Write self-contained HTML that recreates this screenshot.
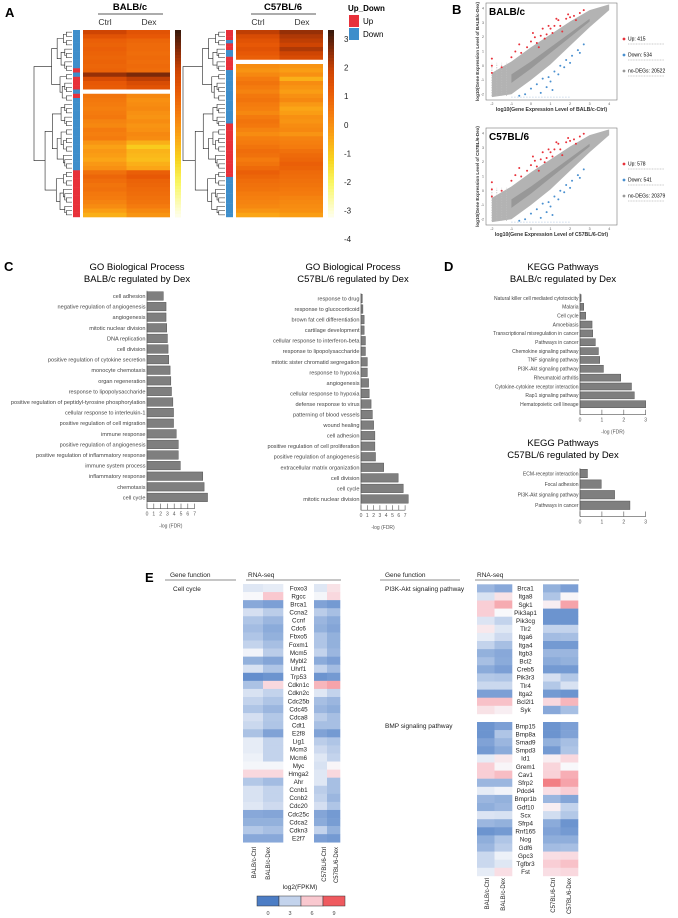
<!DOCTYPE html>
<html><head><meta charset="utf-8">
<style>
html,body{margin:0;padding:0;background:#fff;}
svg{display:block;font-family:"Liberation Sans",Arial,sans-serif;}
</style></head>
<body>
<svg id="fig" width="678" height="918" viewBox="0 0 678 918" xmlns="http://www.w3.org/2000/svg">
<g id="A"></g>
<g id="B"></g>
<g id="C"></g>
<g id="D"></g>
<g id="E"></g>
</svg>
<script>
// ===== Panel A data =====
const balbCtrl=[1.8,1.2,0.8,0.7,0.8,0.7,0.6,0.7,0.6,0.7,2.5,1.5,1.0,0.9,-9,0.2,0.1,0,-0.1,0,0.1,-0.2,-0.3,0,-0.1,0,-0.6,-0.9,-0.7,-0.8,-1.0,-0.7,-0.5,0.3,0.6,0.4,0.2,0.3,0.1,0,-0.2,-0.4,-0.8,-1.2];
const balbDex=[1.2,1.0,0.6,0.5,0.5,0.4,0.5,0.4,0.5,0.4,2.8,2.0,1.5,1.2,-9,-0.3,-0.5,-0.4,-0.3,-0.5,-0.6,-0.4,-0.6,-0.5,-0.3,-0.4,-1.2,-1.8,-1.3,-1.4,-1.5,-1.2,-1.0,0.8,1.0,0.7,0.6,0.5,0.4,0.3,0.2,0,-0.3,-0.6];
const balbStrip="DDDDDDDDDUDUUUDUDDDDDDDDDDDDDDDDDUUUUUUUUUUU";
const c57Ctrl=[2.0,1.5,1.2,1.0,1.2,1.0,0.8,-9,-0.4,-0.6,-0.3,0,0.2,0,-0.2,0.1,0.2,0,-0.1,-0.3,0,0.2,0.1,-0.2,-0.4,-0.1,0,0.2,0.4,0.3,0,0.2,0.5,0.8,0.6,0.4,0.3,0.2,0,-0.1,-0.2,-0.3,-0.6,-1.0];
const c57Dex=[2.5,2.2,2.0,1.8,2.2,1.8,1.5,-9,-0.6,-0.8,-0.5,-1.2,-0.4,-0.6,-0.8,-0.5,-0.3,-0.7,-1.0,-0.8,-0.5,-0.6,-0.4,-0.3,-0.6,-0.2,-0.1,0,0.3,0.5,0.6,0.8,0.7,0.5,0.4,0.3,0.2,0.1,0,-0.2,-0.3,-0.4,-0.5,-0.8];
const c57Strip="UUUDUUDDUUUUDDDDDDDDDDDDDDDDUUUUUUUUUUUUUUUUDDDDDDDDDDDD";
const scaleTicks=[3,2,1,0,-1,-2,-3,-4];

// ===== Panel B data =====
const bNames=["BALB/c","C57BL/6"];
const bUp=[415,578];
const bDown=[534,541];
const bNo=[20522,20379];
const upPtsX=[-0.5,-0.2,0,0.3,0.5,0.8,1,1.2,1.5,1.8,2,2.2,2.5,-1,-0.8,0.2,0.7,1.1,1.6,2.3,-2,-2,-2,-1.5,0.4,0.9,1.4,0.1,0.6,1.3,1.9,-0.6,2.7];
const upPtsY=[0.9,1.3,1.7,1.6,2.1,2.2,2.6,2.8,2.8,3.3,3.4,3.5,3.7,0.6,1.0,2.0,1.9,2.3,2.4,3.2,0,0.5,-0.5,-0.1,1.3,2.8,3.2,2.3,2.6,3.3,3.6,1.5,3.9];
const dnPtsX=[0,0.3,0.6,0.9,1.2,1.5,1.8,2.1,2.4,2.7,0.5,1,1.4,2,-0.3,0.8,1.7,2.5,-0.6,1.1];
const dnPtsY=[-1.6,-1.3,-0.9,-0.8,-0.4,0,0.4,0.7,1.1,1.5,-1.9,-1.1,-0.6,0.2,-2.0,-1.5,-0.1,0.9,-2.1,-1.7];

// ===== Panel C data =====
const goBalbTerms=["cell adhesion","negative regulation of angiogenesis","angiogenesis","mitotic nuclear division","DNA replication","cell division","positive regulation of cytokine secretion","monocyte chemotaxis","organ regeneration","response to lipopolysaccharide","positive regulation of peptidyl-tyrosine phosphorylation","cellular response to interleukin-1","positive regulation of cell migration","immune response","positive regulation of angiogenesis","positive regulation of inflammatory response","immune system process","inflammatory response","chemotaxis","cell cycle"];
const goBalbVals=[2.4,2.8,2.8,2.9,3.0,3.1,3.2,3.4,3.5,3.6,3.8,3.9,3.9,4.3,4.6,4.6,4.9,8.2,8.4,8.9];
const goC57Terms=["response to drug","response to glucocorticoid","brown fat cell differentiation","cartilage development","cellular response to interferon-beta","response to lipopolysaccharide","mitotic sister chromatid segregation","response to hypoxia","angiogenesis","cellular response to hypoxia","defense response to virus","patterning of blood vessels","wound healing","cell adhesion","positive regulation of cell proliferation","positive regulation of angiogenesis","extracellular matrix organization","cell division","cell cycle","mitotic nuclear division"];
const goC57Vals=[0.2,0.3,0.5,0.5,0.7,0.7,1.0,1.0,1.2,1.3,1.6,1.8,2.0,2.2,2.2,2.3,3.6,5.9,6.7,7.5];
const goTicks=[0,1,2,3,4,5,6,7];

// ===== Panel D data =====
const keggBalbTerms=["Natural killer cell mediated cytotoxicity","Malaria","Cell cycle","Amoebiasis","Transcriptional misregulation in cancer","Pathways in cancer","Chemokine signaling pathway","TNF signaling pathway","PI3K-Akt signaling pathway","Rheumatoid arthritis","Cytokine-cytokine receptor interaction","Rap1 signaling pathway","Hematopoietic cell lineage"];
const keggBalbVals=[0.05,0.17,0.26,0.55,0.58,0.7,0.84,0.9,1.07,1.86,2.35,2.48,3.0];
const keggC57Terms=["ECM-receptor interaction","Focal adhesion","PI3K-Akt signaling pathway","Pathways in cancer"];
const keggC57Vals=[0.34,0.97,1.58,2.28];
const keggTicks=[0,1,2,3];

// ===== Panel E data =====
const ccGenes=["Foxo3","Rgcc","Brca1","Ccna2","Ccnf","Cdc6","Fbxo5","Foxm1","Mcm5","Mybl2","Uhrf1","Trp53","Cdkn1c","Cdkn2c","Cdc25b","Cdc45","Cdca8","Cdt1","E2f8","Lig1","Mcm3","Mcm6","Myc","Hmga2","Ahr","Ccnb1","Ccnb2","Cdc20","Cdc25c","Cdca2","Cdkn3","E2f7"];
const ccBc=[3.8,4.5,1.5,3.5,2.5,2.2,2.5,3,4.3,1.8,3.6,0.6,2.4,3.6,3,2.5,3.5,3.2,2.4,4,4,4.2,4.4,5.5,2.6,3.6,3.6,3.8,1.5,1.8,2.6,1.5];
const ccBd=[4,6,1.2,2.8,2,1.6,1.8,2.3,2.8,1.4,2.5,0.8,5.5,3,2.5,2,2.6,2.5,1.3,3,3,3,4.4,5.5,2.2,3,3,3.3,1.4,1.8,2.3,1.5];
const ccCc=[3.8,4.4,1.3,2.8,2,1.8,2.5,2.5,3,1.6,3,0.8,6.5,3.8,2.3,2,2.8,2.3,1.3,2.8,3.3,3.8,3.6,3.8,3.8,2.8,3,3.5,1.4,1.6,3,1.2];
const ccCd=[5.2,5.5,1,2.3,1.6,1.4,1.8,1.8,2,1.2,2.2,1,7,3,2,1.7,2.3,2.3,1,2.5,2.8,3,4.6,5.5,2.3,2.3,2,2.5,1,1.1,1.8,1];
const piGenes=["Brca1","Itga8","Sgk1","Pik3ap1","Pik3cg","Tlr2","Itga6","Itga4","Itgb3","Bcl2","Creb5","Pik3r3","Tlr4","Itga2","Bcl2l1","Syk"];
const piBc=[2,3.6,5.8,5.8,3.7,5,4,3,1.8,2.3,1.6,2.6,3.2,1.2,6.2,5.2];
const piBd=[1.5,5.2,6.8,4.5,3,3.8,3.3,2.3,1.5,1.6,1.2,2.5,3.2,1.2,6.2,4.8];
const piCc=[1.8,2.5,4.8,0.8,0.8,3,2.2,1,2,1.6,1,3.5,2.6,1,5.5,1.5];
const piCd=[1.2,4.6,7,0.8,0.8,3,2.3,1,2,1.8,1,2.6,3.6,0.8,6.5,2.3];
const bmpGenes=["Bmp15","Bmp8a","Smad9","Smpd3","Id1","Grem1","Cav1","Sfrp2","Pdcd4","Bmpr1b","Gdf10","Scx","Sfrp4","Rnf165","Nog","Gdf6","Gpc3","Tgfbr3","Fst"];
const bmpBc=[0.8,0.8,1.3,1,4,5.8,5.8,2,4,2,1.7,3.7,2,0.8,1.7,2,3.2,3.2,4];
const bmpBd=[1.2,2.5,2,1.6,5,4.6,6.3,2,4.3,1.8,2,3.6,1.8,1,2.5,2.8,4.2,3.8,5.3];
const bmpCc=[0.8,0.8,1.8,1,4.8,5.6,5.7,8,5.3,2,4.8,3.4,1.6,1.3,1.7,2.2,5.3,5.8,5.3];
const bmpCd=[1.2,1.3,2.3,2.5,5.5,4.5,6.7,7,5.8,1.4,3,2.6,0.8,1,1.7,2.3,5.4,6.2,5.5];
const fpkmTicks=[0,3,6,9];
const sampleLabels=["BALB/c-Ctrl","BALB/c-Dex","C57BL/6-Ctrl","C57BL/6-Dex"];

// ===== helpers =====
const NS="http://www.w3.org/2000/svg";
function mk(parent,tag,attrs,text){const e=document.createElementNS(NS,tag);for(const k in attrs)e.setAttribute(k,attrs[k]);if(text!==undefined)e.textContent=text;parent.appendChild(e);return e;}
function lerpColor(stops,v){if(v<=stops[0][0])return stops[0][1];for(let i=1;i<stops.length;i++){if(v<=stops[i][0]){const a=stops[i-1],b=stops[i];const t=(v-a[0])/(b[0]-a[0]);const ca=hex(a[1]),cb=hex(b[1]);return `rgb(${Math.round(ca[0]+(cb[0]-ca[0])*t)},${Math.round(ca[1]+(cb[1]-ca[1])*t)},${Math.round(ca[2]+(cb[2]-ca[2])*t)})`;}}return stops[stops.length-1][1];}
function hex(h){return [parseInt(h.slice(1,3),16),parseInt(h.slice(3,5),16),parseInt(h.slice(5,7),16)];}
const heatStops=[[-4.5,"#fffff4"],[-3,"#f9f765"],[-2,"#f8d51f"],[-1,"#fba516"],[0,"#f47b0e"],[1,"#e75806"],[1.8,"#cf4503"],[2.6,"#8e2d08"],[3.5,"#3a1a0c"]];
function heatColor(v){return v<-8?"#ffffff":lerpColor(heatStops,v);}
const eStops=[[0,"#4c7dc5"],[3,"#c3d3ec"],[4.5,"#f8f8fb"],[6,"#f9c8cf"],[9,"#ef5a5f"]];
function eColor(v){return lerpColor(eStops,v);}

// ===== Panel A =====
const A=document.getElementById('A');
const pl=mk(A,'text',{x:5,y:17,'font-size':13,'font-weight':'bold'},'A');

function dendro(g,x0,x1,y0,y1,n){
  const rowH=(y1-y0)/n;
  function rec(lo,hi,depth){
    if(hi-lo<=1){return [x1,y0+(lo+0.5)*rowH];}
    const mid=Math.floor((lo+hi)/2+(depth%2?1:-1)*(hi-lo)*0.1);
    const m=Math.max(lo+1,Math.min(hi-1,mid));
    const a=rec(lo,m,depth+1),b=rec(m,hi,depth+1);
    const span=(hi-lo)/n;
    const x=x1-(x1-x0)*Math.pow(span,0.6)*(depth===0?1:0.95);
    mk(g,'path',{d:`M${a[0]},${a[1]}H${x}V${b[1]}H${b[0]}`,fill:'none',stroke:'#222','stroke-width':0.6});
    return [x,(a[1]+b[1])/2];
  }
  rec(0,n,0);
}
function heatA(name,title,x0,ctrl,dex,strip,dx0){
  const g=mk(A,'g',{});
  
  const y0=30,y1=217,w=43.5,n=ctrl.length,h=(y1-y0)/n;
  const t=mk(g,'text',{x:x0+47,y:10,'font-size':9.5,'font-weight':'bold','text-anchor':'middle'},title);
  
  mk(g,'line',{x1:x0+15,x2:x0+80,y1:14,y2:14,stroke:'#222','stroke-width':0.8});
  mk(g,'text',{x:x0+22,y:25,'font-size':8.5,'text-anchor':'middle',fill:'#333'},'Ctrl');
  mk(g,'text',{x:x0+66,y:25,'font-size':8.5,'text-anchor':'middle',fill:'#333'},'Dex');
  for(let i=0;i<n;i++){
    const c1=mk(g,'rect',{x:x0,y:y0+i*h,width:w,height:h+0.3,fill:heatColor(ctrl[i])});
    
    const c2=mk(g,'rect',{x:x0+w,y:y0+i*h,width:w,height:h+0.3,fill:heatColor(dex[i])});
    
  }
  const sn=strip.length,sh=(y1-y0)/sn;
  for(let i=0;i<sn;i++){mk(g,'rect',{x:x0-10,y:y0+i*sh,width:7,height:sh+0.2,fill:strip[i]==='U'?'#e8313a':'#3e8ecb'});}
  const dg=mk(g,'g',{});
  dendro(dg,dx0,x0-11,y0,y1,44);
  const cb=mk(g,'g',{});
  const cx=x0+92;
  for(let k=0;k<60;k++){const v=3.5-k*(8/60);mk(cb,'rect',{x:cx,y:y0+k*(y1-y0)/60,width:6,height:(y1-y0)/60+0.4,fill:heatColor(v)});}
}
heatA('balbc-heatmap','BALB/c',83,balbCtrl,balbDex,balbStrip,34);
heatA('c57-heatmap','C57BL/6',236,c57Ctrl,c57Dex,c57Strip,183);
scaleTicks.forEach((v,i)=>{const t=mk(A,'text',{x:344,y:42+i*28.6,'font-size':8,fill:'#222'},String(v));});
const ud=mk(A,'text',{x:348,y:11,'font-size':8,'font-weight':'bold'},'Up_Down');
mk(A,'rect',{x:349,y:15,width:10,height:12,fill:'#e8313a'});
mk(A,'rect',{x:349,y:28,width:10,height:12,fill:'#3e8ecb'});
const lu=mk(A,'text',{x:363,y:24,'font-size':8},'Up');
const ld=mk(A,'text',{x:363,y:37,'font-size':8},'Down');

// ===== Panel B =====
const B=document.getElementById('B');
const blab=mk(B,'text',{x:452,y:14,'font-size':13,'font-weight':'bold'},'B');
function scatter(idx,top){
  const g=mk(B,'g',{});
  const L=486,R=617,T=top,Bt=top+97;
  const sx=v=>L+(v+2.3)/(4.4+2.3)*(R-L), sy=v=>Bt-(v+2.4)/(4.4+2.4)*(Bt-T);
  mk(g,'rect',{x:L,y:T,width:R-L,height:Bt-T,fill:'#fff',stroke:'#777','stroke-width':0.6});
  const up=[[-2,-0.5],[-1,0.3],[0,1.3],[1,2.2],[2,3.1],[3,3.9],[4,4.3]],lo=[[4,3.9],[3,2.7],[2,1.4],[1,0.1],[0,-1.0],[-1,-2.0],[-2,-2.2]];
  let d='M'+up.map(p=>sx(p[0])+','+sy(p[1])).join('L')+'L'+lo.map(p=>sx(p[0])+','+sy(p[1])).join('L')+'Z';
  const cl=mk(g,'path',{d:d,fill:'#b3b3b3'});
  const core=[[-1,-0.6],[0,0.3],[1,1.3],[2,2.3],[3,3.3],[3,3.1],[2,2.0],[1,0.9],[0,-0.2],[-1,-1.2]];
  mk(g,'path',{d:'M'+core.map(p=>sx(p[0])+','+sy(p[1])).join('L')+'Z',fill:'#989898'});
  [-2,-1.75,-1.5,-1.25].forEach(x=>mk(g,'line',{x1:sx(x),x2:sx(x),y1:sy(-2.1),y2:sy(0.2),stroke:'#bbb','stroke-width':1,'stroke-dasharray':'1,1.5'}));
  mk(g,'line',{x1:sx(-1),x2:sx(2),y1:sy(-2.2),y2:sy(-2.2),stroke:'#9bb7d8','stroke-width':0.8,'stroke-dasharray':'1,2'});
  upPtsX.forEach((x,i)=>{const p=mk(g,'circle',{cx:sx(x),cy:sy(upPtsY[i]+idx*0.1),r:1,fill:'#e8313a'});});
  dnPtsX.forEach((x,i)=>{const p=mk(g,'circle',{cx:sx(x),cy:sy(dnPtsY[i]),r:1,fill:'#4a90d0'});});
  [-2,-1,0,1,2,3,4].forEach(v=>{mk(g,'text',{x:sx(v),y:Bt+5,'font-size':3.5,'text-anchor':'middle',fill:'#555'},String(v));mk(g,'text',{x:L-2,y:sy(v)+1,'font-size':3.5,'text-anchor':'end',fill:'#555'},String(v));});
  const tt=mk(g,'text',{x:L+3,y:T+12,'font-size':10,'font-weight':'bold'},bNames[idx]);
  const xl=mk(g,'text',{x:(L+R)/2,y:Bt+11,'font-size':5.2,'font-weight':'bold','text-anchor':'middle',fill:'#333'},'log10(Gene Expression Level of '+bNames[idx]+'-Ctrl)');
  const yl=mk(g,'text',{x:0,y:0,'font-size':4.6,'font-weight':'bold','text-anchor':'middle',fill:'#333',transform:`translate(${L-7},${(T+Bt)/2}) rotate(-90)`},'log10(Gene Expression Level of '+bNames[idx]+'-Dex)');
  const leg=[['#e8313a','Up: '+bUp[idx],T+36],['#4a90d0','Down: '+bDown[idx],T+52],['#999','no-DEGs: '+bNo[idx],T+68]];
  leg.forEach(l=>{mk(g,'circle',{cx:624,cy:l[2],r:1.4,fill:l[0]});const t=mk(g,'text',{x:628,y:l[2]+1.7,'font-size':5},l[1]);mk(g,'line',{x1:628,x2:664,y1:l[2]+5,y2:l[2]+5,stroke:'#bbb','stroke-width':0.7,'stroke-dasharray':'1,0.6'});});
}
scatter(0,3);scatter(1,128);

// ===== bar chart helper =====
function barChart(parent,name,terms,vals,ticks,x0,pxPerUnit,yFirst,step,barH,fs,title1,title2,tx,ty,showX){
  const g=mk(parent,'g',{});
  const t1=mk(g,'text',{x:tx,y:ty,'font-size':9.5,'text-anchor':'middle'},title1);
  const t2=mk(g,'text',{x:tx,y:ty+12,'font-size':9.5,'text-anchor':'middle'},title2);
  const sx=v=>x0+v*pxPerUnit;
  terms.forEach((t,i)=>{
    const cy=yFirst+i*step;
    const b=mk(g,'rect',{x:sx(0),y:cy-barH/2,width:sx(vals[i])-sx(0),height:barH,fill:'#7f7f7f',stroke:'#555','stroke-width':0.5});
    
    const l=mk(g,'text',{x:x0-1.5,y:cy+fs*0.35,'font-size':fs,'text-anchor':'end',fill:'#444'},t);
    
  });
  const yEnd=yFirst+(terms.length-1)*step+barH/2+1;
  mk(g,'line',{x1:x0,x2:x0,y1:yFirst-barH/2-1,y2:yEnd+6,stroke:'#555','stroke-width':0.6});
  mk(g,'line',{x1:sx(0),x2:sx(ticks[ticks.length-1]),y1:yEnd+6,y2:yEnd+6,stroke:'#555','stroke-width':0.6});
  ticks.forEach(v=>{mk(g,'line',{x1:sx(v),x2:sx(v),y1:yEnd+1,y2:yEnd+6,stroke:'#555','stroke-width':0.6});
    const tl=mk(g,'text',{x:sx(v),y:yEnd+13,'font-size':5,'text-anchor':'middle',fill:'#555'},String(v));});
  if(showX){const xl=mk(g,'text',{x:sx(ticks[ticks.length-1]/2),y:yEnd+25,'font-size':5,'text-anchor':'middle',fill:'#555'},'-log (FDR)');}
}
const C=document.getElementById('C');
const clab=mk(C,'text',{x:4,y:271,'font-size':13,'font-weight':'bold'},'C');
barChart(C,'go-balbc-chart',goBalbTerms,goBalbVals,goTicks,147,6.8,296,10.6,8.5,5.6,'GO Biological Process','BALB/c regulated by Dex',137,270,true);
barChart(C,'go-c57-chart',goC57Terms,goC57Vals,goTicks,361,6.3,298.5,10.55,8.5,5.6,'GO Biological Process','C57BL/6 regulated by Dex',353,270,true);
const D=document.getElementById('D');
const dlab=mk(D,'text',{x:444,y:271,'font-size':13,'font-weight':'bold'},'D');
barChart(D,'kegg-balbc-chart',keggBalbTerms,keggBalbVals,keggTicks,580,21.9,298,8.85,7,5,'KEGG Pathways','BALB/c regulated by Dex',563,270,true);
barChart(D,'kegg-c57-chart',keggC57Terms,keggC57Vals,keggTicks,580,21.9,473.5,10.6,8.5,5,'KEGG Pathways','C57BL/6 regulated by Dex',563,446,false);

// ===== Panel E =====
const E=document.getElementById('E');
const elab=mk(E,'text',{x:145,y:582,'font-size':13,'font-weight':'bold'},'E');
function header(x1,x2,x3,x4){
  const a=mk(E,'text',{x:x1,y:577,'font-size':6.5,fill:'#222'},'Gene function');
  mk(E,'line',{x1:x1-5,x2:x2,y1:580,y2:580,stroke:'#666','stroke-width':0.7});
  const b=mk(E,'text',{x:x3,y:577,'font-size':6.5,fill:'#222'},'RNA-seq');
  mk(E,'line',{x1:x3-2,x2:x4,y1:580,y2:580,stroke:'#666','stroke-width':0.7});
}
header(170,236,248,341);header(385,460,477,579);
function eHeat(name,genes,c1,c2,c3,c4,xs,ws,gx,yTop,step){
  const g=mk(E,'g',{});
  const cols=[c1,c2,c3,c4];
  genes.forEach((gn,i)=>{
    const y=yTop+i*step;
    cols.forEach((c,j)=>{const r=mk(g,'rect',{x:xs[j],y:y,width:ws[j]+0.3,height:step+0.3,fill:eColor(c[i])});});
    const t=mk(g,'text',{x:gx,y:y+step*0.78,'font-size':6.3,'text-anchor':'middle',fill:'#222'},gn);
  });
}
const ccT=mk(E,'text',{x:173,y:591,'font-size':6.5,fill:'#222'},'Cell cycle');
eHeat('cell-cycle-heatmap',ccGenes,ccBc,ccBd,ccCc,ccCd,[243,263,314,327],[20,20,13,13],298.5,584,8.07);
const piT=mk(E,'text',{x:385,y:591,'font-size':6.5,fill:'#222'},'PI3K-Akt signaling pathway');
eHeat('pi3k-akt-heatmap',piGenes,piBc,piBd,piCc,piCd,[477,494.5,543,560.5],[17.5,17.5,17.5,17.5],525.5,584.3,8.1);
const bmT=mk(E,'text',{x:385,y:728,'font-size':6.5,fill:'#222'},'BMP signaling pathway');
eHeat('bmp-heatmap',bmpGenes,bmpBc,bmpBd,bmpCc,bmpCd,[477,494.5,543,560.5],[17.5,17.5,17.5,17.5],525.5,722,8.1);
function colLabels(xs,yb){sampleLabels.forEach((s,i)=>{const t=mk(E,'text',{x:0,y:0,'font-size':6,'text-anchor':'end',fill:'#222',transform:`translate(${xs[i]},${yb}) rotate(-90)`},s);});}
colLabels([256,270,326,338],847);colLabels([489,505,555,571],878);
const lg=mk(E,'text',{x:300,y:889,'font-size':6.5,'text-anchor':'middle',fill:'#222'},'log2(FPKM)');
const lgc=["#4c7dc5","#c3d3ec","#f9c8cf","#ef5a5f"];
lgc.forEach((c,i)=>{const r=mk(E,'rect',{x:257+i*22,y:896,width:22,height:10,fill:c,stroke:'#333','stroke-width':0.5});});
fpkmTicks.forEach((v,i)=>{const t=mk(E,'text',{x:268+i*22,y:915,'font-size':5.5,'text-anchor':'middle',fill:'#444'},String(v));});
</script>
</body></html>
